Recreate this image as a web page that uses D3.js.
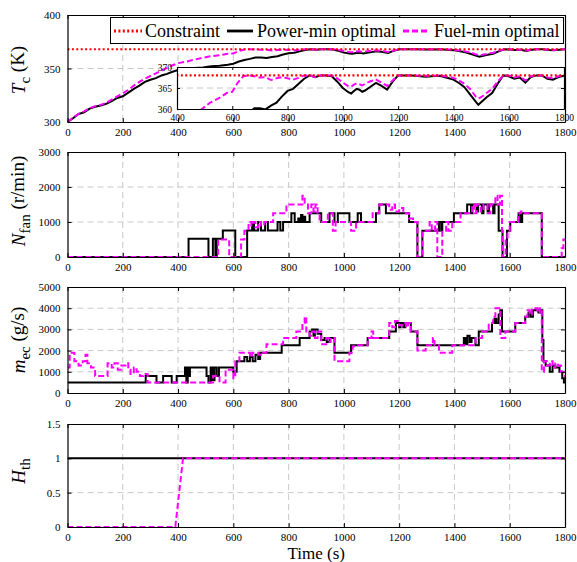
<!DOCTYPE html>
<html><head><meta charset="utf-8">
<script src="https://cdn.jsdelivr.net/npm/d3@7"></script>
<style>body{margin:0;background:#fff}svg{display:block;font-family:"Liberation Serif","Times New Roman",serif}</style>
</head><body><svg id="c" width="577" height="562"></svg>
<script>
// ---------------- DATA ----------------
const xTicks = [0,200,400,600,800,1000,1200,1400,1600,1800];
const insetXTicks = [400,600,800,1000,1200,1400,1600,1800];
const tcTicks = [300,350,400];
const insetTcTicks = [360,365,370];
const nfanTicks = [0,1000,2000,3000];
const mecTicks = [0,1000,2000,3000,4000,5000];
const hthTicks = [0,0.5,1,1.5];
const legendLabels = ["Constraint","Power-min optimal","Fuel-min optimal"];
const constraintT = [0,1800];
const constraintV = [368,368];

const tcPowerT = [0,20,40,60,80,100,120,140,160,180,200,220,240,260,280,300,320,340,360,380,400,430,460,490,520,550,580,600,620,640,660,680,700,720,740,760,780,800,820,840,860,880,900,920,940,960,980,1000,1020,1030,1040,1050,1060,1070,1080,1100,1120,1140,1160,1180,1200,1250,1300,1320,1350,1380,1400,1420,1440,1460,1480,1490,1500,1520,1540,1560,1580,1600,1620,1640,1660,1680,1700,1720,1740,1760,1780,1800];
const tcPowerV = [300,303.5,307.5,309,312.5,314.3,315.5,317,319.5,322.5,324,327.5,331,334,337.5,339.5,341,343.5,345,347,348.5,349.5,350.5,351,352,352.5,353.5,354.5,356.5,358,359,360.2,360.2,359.9,360.8,361.5,363,364.3,364.8,366,367.2,368,367.6,368,368,367.8,366.5,365,364,363.7,364.3,364.8,364.6,364.1,364.4,365.3,366.2,365.5,364.6,366.5,368,368,367.7,367.8,367.9,367.4,367,366.2,365.2,363.5,361.8,361,361.6,362.8,363.8,366,368,367.8,367.2,367.5,366.3,367.6,368,368,367.2,367,367.6,367.9];
const tcFuelT = tcPowerT;
const tcFuelV = [300,304,307.5,310,313,314.8,316,318,321,324,326.8,330,334,337.5,340.5,343,345.5,348,350.5,353,355,356.5,358.3,360,361.5,362.5,363.8,364.1,366.3,367.8,368,367.8,367.5,367.6,366.9,367.3,367.6,367.3,367,367.4,368,368,367.6,368,368,368,367.3,366.3,365.4,365.3,365.8,366.1,365.9,365.6,366,366.6,367,366.3,365.5,366.8,368,368,367.9,367.9,368,367.7,367.4,366.8,366,364.8,363,362.5,362.8,363.8,364.8,366.5,368,368,367.5,367.8,366.8,367.8,368,368,367.5,367.4,367.8,368];

const nfanPowerT = [0,438,510,526,535,540,562,607,650,668,675,690,700,715,725,760,770,780,810,822,835,840,845,850,855,860,876,918,948,966,978,1020,1050,1062,1116,1128,1152,1236,1266,1284,1344,1352,1356,1398,1446,1460,1465,1480,1485,1500,1505,1520,1525,1540,1545,1560,1574,1590,1602,1632,1640,1645,1716,1800];
const nfanPowerV = [0,520,0,520,0,520,760,0,760,1000,760,1000,760,1000,760,1000,760,1000,1250,1000,1100,1000,1200,1000,1150,1000,1250,1000,1250,1000,1250,1000,1250,1000,1250,1500,1250,1000,0,750,1000,750,1000,1250,1500,1250,1500,1300,1500,1250,1500,1300,1500,1250,1500,750,0,750,1000,1250,1000,1250,0,0];
const nfanFuelT = [0,545,585,628,640,655,665,672,680,690,700,712,744,792,850,858,870,882,890,897,905,912,942,960,970,1026,1044,1104,1128,1164,1175,1185,1200,1215,1236,1250,1266,1284,1310,1318,1330,1338,1356,1370,1378,1392,1422,1464,1472,1480,1495,1505,1520,1530,1548,1556,1565,1572,1585,1592,1600,1630,1640,1650,1716,1788,1794,1800];
const nfanFuelV = [0,500,0,500,750,1000,900,1000,850,1000,900,1000,1250,1500,1750,1500,1250,1500,1300,1500,1250,1000,1250,750,1000,750,1000,1250,1500,1350,1500,1300,1400,1250,1100,1000,0,750,1000,750,1000,0,750,1000,750,1000,1250,1500,1250,1500,1300,1500,1250,1500,1750,1500,1750,0,500,750,1000,1250,1300,1250,0,250,500,500];

const mecPowerT = [0,283,322,346,377,395,425,430,435,440,443,503,510,518,525,532,540,548,600,612,640,650,660,670,680,690,697,775,840,876,885,890,895,905,918,930,938,948,966,1026,1086,1164,1188,1200,1205,1215,1222,1242,1266,1434,1440,1447,1455,1462,1476,1488,1536,1545,1552,1560,1566,1572,1620,1656,1668,1676,1684,1704,1712,1718,1722,1730,1745,1755,1765,1780,1790,1796,1800];
const mecPowerV = [500,800,500,800,500,800,1200,500,1200,800,1200,800,500,1200,600,1200,800,1200,1000,1500,1700,1500,1700,1500,1800,1600,1900,2250,2600,2900,3000,2700,3000,2800,2500,2600,2400,2600,1900,2250,2600,2900,3300,3100,3300,3100,3300,2900,2250,2600,2300,2700,2400,2600,2250,2900,3300,3500,3300,3700,3900,2900,3300,3600,3800,3600,3900,3800,3900,2500,1500,1300,1000,1300,1200,1000,700,500,500];
const mecFuelT = [0,8,25,40,55,65,72,85,100,145,160,170,182,195,210,220,228,240,250,262,275,290,527,550,572,600,607,622,660,668,690,700,720,780,828,850,858,864,876,885,895,905,918,936,945,952,966,1020,1032,1044,1086,1100,1106,1164,1175,1185,1200,1212,1225,1232,1242,1266,1296,1322,1328,1344,1392,1476,1500,1524,1540,1548,1566,1584,1620,1656,1664,1672,1680,1700,1708,1716,1724,1735,1745,1755,1765,1775,1785,1795,1800];
const mecFuelV = [1200,1900,1500,1300,1500,1800,1400,1200,800,1400,1200,1400,1100,1300,1400,1100,900,1200,1000,800,900,500,800,500,1100,700,1500,1900,1700,1900,1800,1900,2300,2600,2900,3300,3600,2900,2700,2900,2600,2900,2300,2600,2400,2600,1500,1900,2200,2250,2600,2900,2600,3300,3100,3400,3200,3300,3100,3300,2900,2000,2250,2600,2250,1900,2250,2600,2900,3300,3600,4000,2600,2900,3300,3600,3900,3700,4000,3800,4000,1000,1500,1300,1500,1200,1400,1300,1000,800,800];

const hthPowerT = [0,1800];
const hthPowerV = [1,1];
const hthFuelT = [0,390,418,1800];
const hthFuelV = [0,0,1,1];

// ---------------- DRAWING ----------------
const svg = d3.select('#c');
const X0 = 67.5, X1 = 565;
const x = d3.scaleLinear().domain([0,1800]).range([X0,X1]);
const GRID = '#c8c8c8';
const RED = '#ff0000', MAG = '#ff00ff', BLK = '#000000';
const FONT = '"Liberation Serif","Times New Roman",serif';
const styles = {
  constraint: {stroke: RED, width: 2.2, dash: '2,2.4'},
  power: {stroke: BLK, width: 2, dash: null},
  fuel: {stroke: MAG, width: 2, dash: '6,3'}
};

let clipN = 0;
function plotArea(xs, y, top, bottom, yTicksArr, gridX, opts) {
  const g = svg.append('g');
  if (opts.bg) g.append('rect').attr('x', xs.range()[0]).attr('y', top)
     .attr('width', xs.range()[1]-xs.range()[0]).attr('height', bottom-top).attr('fill','#fff');
  g.append('g').selectAll('line').data(gridX).join('line')
    .attr('x1', d=>xs(d)).attr('x2', d=>xs(d)).attr('y1', top).attr('y2', bottom)
    .attr('stroke', GRID).attr('stroke-width', 1).attr('stroke-dasharray', '6,4');
  g.append('g').selectAll('line').data(yTicksArr.slice(1,-1)).join('line')
    .attr('x1', xs.range()[0]).attr('x2', xs.range()[1]).attr('y1', d=>y(d)).attr('y2', d=>y(d))
    .attr('stroke', GRID).attr('stroke-width', 1).attr('stroke-dasharray', '6,4');
  const id = 'clip' + (clipN++);
  svg.append('clipPath').attr('id', id).append('rect')
    .attr('x', xs.range()[0]).attr('y', top).attr('width', xs.range()[1]-xs.range()[0]).attr('height', bottom-top);
  const lines = g.append('g').attr('clip-path', `url(#${id})`);
  return {g, lines};
}
function addLine(layer, xs, y, T, V, st, curve) {
  layer.append('path').datum(d3.zip(T, V))
    .attr('d', d3.line().x(d=>xs(d[0])).y(d=>y(d[1])).curve(curve))
    .attr('fill','none').attr('stroke', st.stroke).attr('stroke-width', st.width)
    .attr('stroke-dasharray', st.dash).attr('stroke-linejoin','miter');
}
function addAxes(g, xs, y, top, bottom, xT, yT, fs, tick) {
  const fmt = d => String(d);
  const parts = [
    g.append('g').attr('transform', `translate(0,${bottom})`)
      .call(d3.axisBottom(xs).tickValues(xT).tickSize(-tick).tickSizeOuter(0).tickPadding(tick+2).tickFormat(fmt)),
    g.append('g').attr('transform', `translate(0,${top})`)
      .call(d3.axisTop(xs).tickValues(xT).tickSize(-tick).tickSizeOuter(0).tickFormat('')),
    g.append('g').attr('transform', `translate(${xs.range()[0]},0)`)
      .call(d3.axisLeft(y).tickValues(yT).tickSize(-tick).tickSizeOuter(0).tickPadding(tick+ (fs>10?3:2)).tickFormat(fmt)),
    g.append('g').attr('transform', `translate(${xs.range()[1]},0)`)
      .call(d3.axisRight(y).tickValues(yT).tickSize(-tick).tickSizeOuter(0).tickFormat(''))
  ];
  parts.forEach(a => {
    a.attr('font-family', FONT).attr('font-size', fs);
    a.select('.domain').attr('stroke', '#000').attr('stroke-width', 1.2);
    a.selectAll('.tick line').attr('stroke', '#000').attr('stroke-width', 1);
    a.selectAll('.tick text').attr('fill', '#000');
  });
}
function yLabel(cy, main, sub, rest) {
  const t = svg.append('text').attr('transform', `translate(25,${cy}) rotate(-90)`)
    .attr('text-anchor','middle').attr('font-family', FONT).attr('font-size', 19).attr('fill','#000');
  t.append('tspan').attr('font-style','italic').text(main);
  t.append('tspan').attr('font-size', 15).attr('dy', '0.3em').text(sub);
  if (rest) t.append('tspan').attr('dy', '-0.3em').text(rest);
}

const panelDefs = [
  {top:15, bottom:122, dom:[300,400], ticks:tcTicks},
  {top:152, bottom:257, dom:[0,3000], ticks:nfanTicks},
  {top:287, bottom:393, dom:[0,5000], ticks:mecTicks},
  {top:424, bottom:527, dom:[0,1.5], ticks:hthTicks}
];
const gridX = xTicks.slice(1,-1);

// Panel 1: Tc
{
  const p = panelDefs[0];
  const y = d3.scaleLinear().domain(p.dom).range([p.bottom, p.top]);
  const {g, lines} = plotArea(x, y, p.top, p.bottom, p.ticks, gridX, {});
  addLine(lines, x, y, tcPowerT, tcPowerV, styles.power, d3.curveLinear);
  addLine(lines, x, y, tcFuelT, tcFuelV, styles.fuel, d3.curveLinear);
  addLine(lines, x, y, constraintT, constraintV, styles.constraint, d3.curveLinear);
  addAxes(g, x, y, p.top, p.bottom, xTicks, p.ticks, 11, 4);

  // legend
  const lg = svg.append('g');
  lg.append('rect').attr('x',110.5).attr('y',17.5).attr('width',453).attr('height',26)
    .attr('fill','#fff').attr('stroke','#000').attr('stroke-width',1);
  const items = [
    {x0:114, x1:142, tx:145, st:styles.constraint},
    {x0:227, x1:253, tx:257, st:styles.power},
    {x0:403, x1:430, tx:434, st:styles.fuel}
  ];
  legendLabels.forEach((lab, i) => {
    const it = items[i];
    lg.append('line').attr('x1',it.x0).attr('x2',it.x1).attr('y1',31).attr('y2',31)
      .attr('stroke',it.st.stroke).attr('stroke-width',it.st.width+0.8).attr('stroke-dasharray',it.st.dash);
    lg.append('text').attr('x',it.tx).attr('y',37).attr('font-family',FONT).attr('font-size',18).attr('fill','#000').text(lab);
  });

  // inset
  const xi = d3.scaleLinear().domain([400,1800]).range([177,564]);
  const yi = d3.scaleLinear().domain([360,370]).range([109,67]);
  const ins = plotArea(xi, yi, 67, 109, insetTcTicks, [], {bg:true});
  addLine(ins.lines, xi, yi, tcPowerT, tcPowerV, styles.power, d3.curveLinear);
  addLine(ins.lines, xi, yi, tcFuelT, tcFuelV, styles.fuel, d3.curveLinear);
  addLine(ins.lines, xi, yi, constraintT, constraintV, styles.constraint, d3.curveLinear);
  addAxes(ins.g, xi, yi, 67, 109, insetXTicks, insetTcTicks, 9.5, 3);
}
// Panel 2: Nfan
{
  const p = panelDefs[1];
  const y = d3.scaleLinear().domain(p.dom).range([p.bottom, p.top]);
  const {g, lines} = plotArea(x, y, p.top, p.bottom, p.ticks, gridX, {});
  addLine(lines, x, y, nfanPowerT, nfanPowerV, styles.power, d3.curveStepAfter);
  addLine(lines, x, y, nfanFuelT, nfanFuelV, styles.fuel, d3.curveStepAfter);
  addAxes(g, x, y, p.top, p.bottom, xTicks, p.ticks, 11, 4);
}
// Panel 3: mec
{
  const p = panelDefs[2];
  const y = d3.scaleLinear().domain(p.dom).range([p.bottom, p.top]);
  const {g, lines} = plotArea(x, y, p.top, p.bottom, p.ticks, gridX, {});
  addLine(lines, x, y, mecPowerT, mecPowerV, styles.power, d3.curveStepAfter);
  addLine(lines, x, y, mecFuelT, mecFuelV, styles.fuel, d3.curveStepAfter);
  addAxes(g, x, y, p.top, p.bottom, xTicks, p.ticks, 11, 4);
}
// Panel 4: Hth
{
  const p = panelDefs[3];
  const y = d3.scaleLinear().domain(p.dom).range([p.bottom, p.top]);
  const {g, lines} = plotArea(x, y, p.top, p.bottom, p.ticks, gridX, {});
  addLine(lines, x, y, hthPowerT, hthPowerV, styles.power, d3.curveLinear);
  addLine(lines, x, y, hthFuelT, hthFuelV, styles.fuel, d3.curveLinear);
  addAxes(g, x, y, p.top, p.bottom, xTicks, p.ticks, 11, 4);
}

yLabel(70, 'T', 'c', ' (K)');
yLabel(201, 'N', 'fan', ' (r/min)');
yLabel(340, 'm', 'ec', ' (g/s)');
yLabel(471, 'H', 'th', null);

svg.append('text').attr('x', (X0+X1)/2).attr('y', 559).attr('text-anchor','middle')
  .attr('font-family', FONT).attr('font-size', 17).attr('fill','#000').text('Time (s)');
</script>
</body></html>
